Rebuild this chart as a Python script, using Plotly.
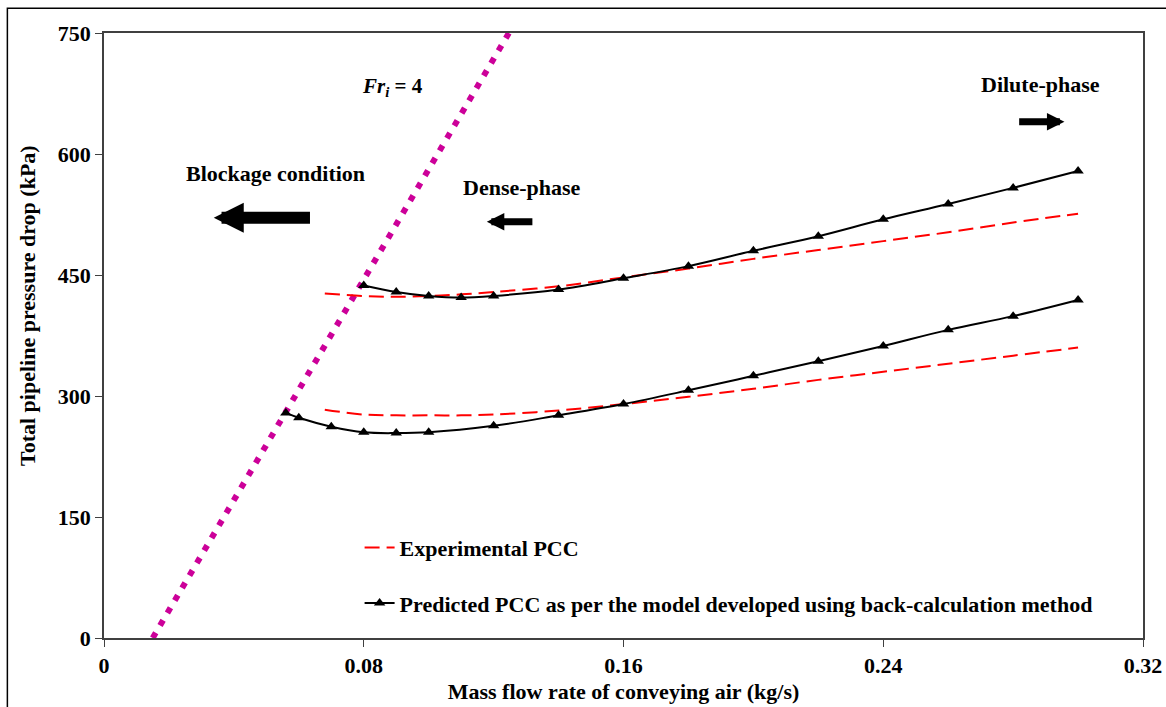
import plotly.graph_objects as go

# ---- data ----
x_exp = [0.068, 0.08, 0.09, 0.10, 0.11, 0.12, 0.14, 0.16, 0.18, 0.20, 0.22, 0.24, 0.26, 0.28, 0.30]
exp_high = [427, 424, 423, 424, 426, 429, 436, 447, 458, 470, 481, 492, 503, 515, 526]
exp_low = [283, 277, 276, 276, 276, 277, 282, 290, 299, 309, 320, 330, 340, 350, 360]

x_pred_high = [0.08, 0.09, 0.10, 0.11, 0.12, 0.14, 0.16, 0.18, 0.20, 0.22, 0.24, 0.26, 0.28, 0.30]
pred_high = [437, 429, 424, 422, 424, 432, 446, 461, 480, 498, 519, 538, 558, 579]

x_pred_low = [0.056, 0.06, 0.07, 0.08, 0.09, 0.10, 0.12, 0.14, 0.16, 0.18, 0.20, 0.22, 0.24, 0.26, 0.28, 0.30]
pred_low = [279, 273, 262, 255, 254, 255, 263, 276, 290, 307, 325, 343, 362, 382, 399, 419]

x_fr = [0.015, 0.1247]
y_fr = [0, 750]

x_ticks = [0, 0.08, 0.16, 0.24, 0.32]
x_tick_labels = ["0", "0.08", "0.16", "0.24", "0.32"]
y_ticks = [0, 150, 300, 450, 600, 750]

FONT = "Liberation Serif"
RED = "#FF0000"
MAG = "#CC0099"

fig = go.Figure()

fig.add_trace(go.Scatter(x=x_fr, y=y_fr, mode="lines", showlegend=False,
                         line=dict(color=MAG, width=6, dash="6px,8.5px")))

fig.add_trace(go.Scatter(x=x_exp, y=exp_high, mode="lines", name="<b>Experimental PCC</b>",
                         legendgroup="a", showlegend=True,
                         line=dict(color=RED, width=2, dash="15px,7px", shape="spline")))
fig.add_trace(go.Scatter(x=x_exp, y=exp_low, mode="lines", name="Experimental PCC",
                         legendgroup="a", showlegend=False,
                         line=dict(color=RED, width=2, dash="15px,7px", shape="spline")))

fig.add_trace(go.Scatter(x=x_pred_high, y=pred_high, mode="lines+markers",
                         name="<b>Predicted PCC as per the model developed using back-calculation method</b>",
                         legendgroup="b", showlegend=True,
                         line=dict(color="black", width=2, shape="spline"),
                         marker=dict(symbol="triangle-up", size=10, color="black")))
fig.add_trace(go.Scatter(x=x_pred_low, y=pred_low, mode="lines+markers",
                         name="Predicted PCC", legendgroup="b", showlegend=False,
                         line=dict(color="black", width=2, shape="spline"),
                         marker=dict(symbol="triangle-up", size=10, color="black")))

bold = dict(family=FONT, size=22, color="black")

annotations = [
    dict(x=0.089, y=683, xref="x", yref="y", showarrow=False,
         text="<b><i>Fr</i><sub><i>i</i></sub> = 4</b>", font=dict(family=FONT, size=21, color="black")),
    dict(x=0.0527, y=576, xref="x", yref="y", showarrow=False,
         text="<b>Blockage condition</b>", font=bold),
    dict(x=0.1287, y=558, xref="x", yref="y", showarrow=False,
         text="<b>Dense-phase</b>", font=bold),
    dict(x=0.2885, y=686, xref="x", yref="y", showarrow=False,
         text="<b>Dilute-phase</b>", font=bold),
    # arrows
    dict(x=0.0338, y=521, ax=0.0639, ay=521, xref="x", yref="y", axref="x", ayref="y",
         text="", showarrow=True, arrowhead=2, arrowsize=0.5, arrowwidth=12, arrowcolor="black"),
    dict(x=0.1179, y=516, ax=0.1324, ay=516, xref="x", yref="y", axref="x", ayref="y",
         text="", showarrow=True, arrowhead=2, arrowsize=0.5, arrowwidth=7, arrowcolor="black"),
    dict(x=0.2958, y=640, ax=0.2814, ay=640, xref="x", yref="y", axref="x", ayref="y",
         text="", showarrow=True, arrowhead=2, arrowsize=0.5, arrowwidth=7, arrowcolor="black"),
    # y title
    dict(x=-0.073, y=0.549, xref="paper", yref="paper", showarrow=False, textangle=-90,
         xanchor="center", yanchor="middle",
         text="<b>Total pipeline pressure drop (kPa)</b>", font=dict(family=FONT, size=22, color="black")),
]

fig.update_layout(
    width=1166, height=707,
    margin=dict(l=104, r=23, t=33, b=69, autoexpand=False),
    paper_bgcolor="white", plot_bgcolor="white",
    font=dict(family=FONT, color="black"),
    annotations=annotations,
    legend=dict(x=0.246, y=0.184, xanchor="left", yanchor="top",
                bgcolor="rgba(0,0,0,0)", font=dict(family=FONT, size=22, color="black"),
                traceorder="grouped", tracegroupgap=24),
    shapes=[dict(type="rect", xref="paper", yref="paper", x0=-0.093, y0=-0.2, x1=1.2, y1=1.041,
                 line=dict(color="black", width=1.5), fillcolor="rgba(0,0,0,0)", layer="below")],
)

fig.update_xaxes(range=[0, 0.32], tickvals=x_ticks, ticktext=[f"<b>{t}</b>" for t in x_tick_labels],
                 showgrid=False, zeroline=False, showline=True, linecolor="#404040", linewidth=1.5,
                 mirror=True, ticks="outside", ticklen=7, tickcolor="#404040", automargin=False,
                 tickfont=dict(family=FONT, size=22, color="black"),
                 title=dict(text="<b>Mass flow rate of conveying air (kg/s)</b>",
                            font=dict(family=FONT, size=22, color="black"), standoff=6))
fig.update_yaxes(range=[0, 750], tickvals=y_ticks, ticktext=[f"<b>{t}</b>" for t in y_ticks],
                 showgrid=False, zeroline=False, showline=True, linecolor="#404040", linewidth=1.5,
                 mirror=True, ticks="outside", ticklen=7, tickcolor="#404040", automargin=False,
                 tickfont=dict(family=FONT, size=22, color="black"))

fig.write_html("out.html")
